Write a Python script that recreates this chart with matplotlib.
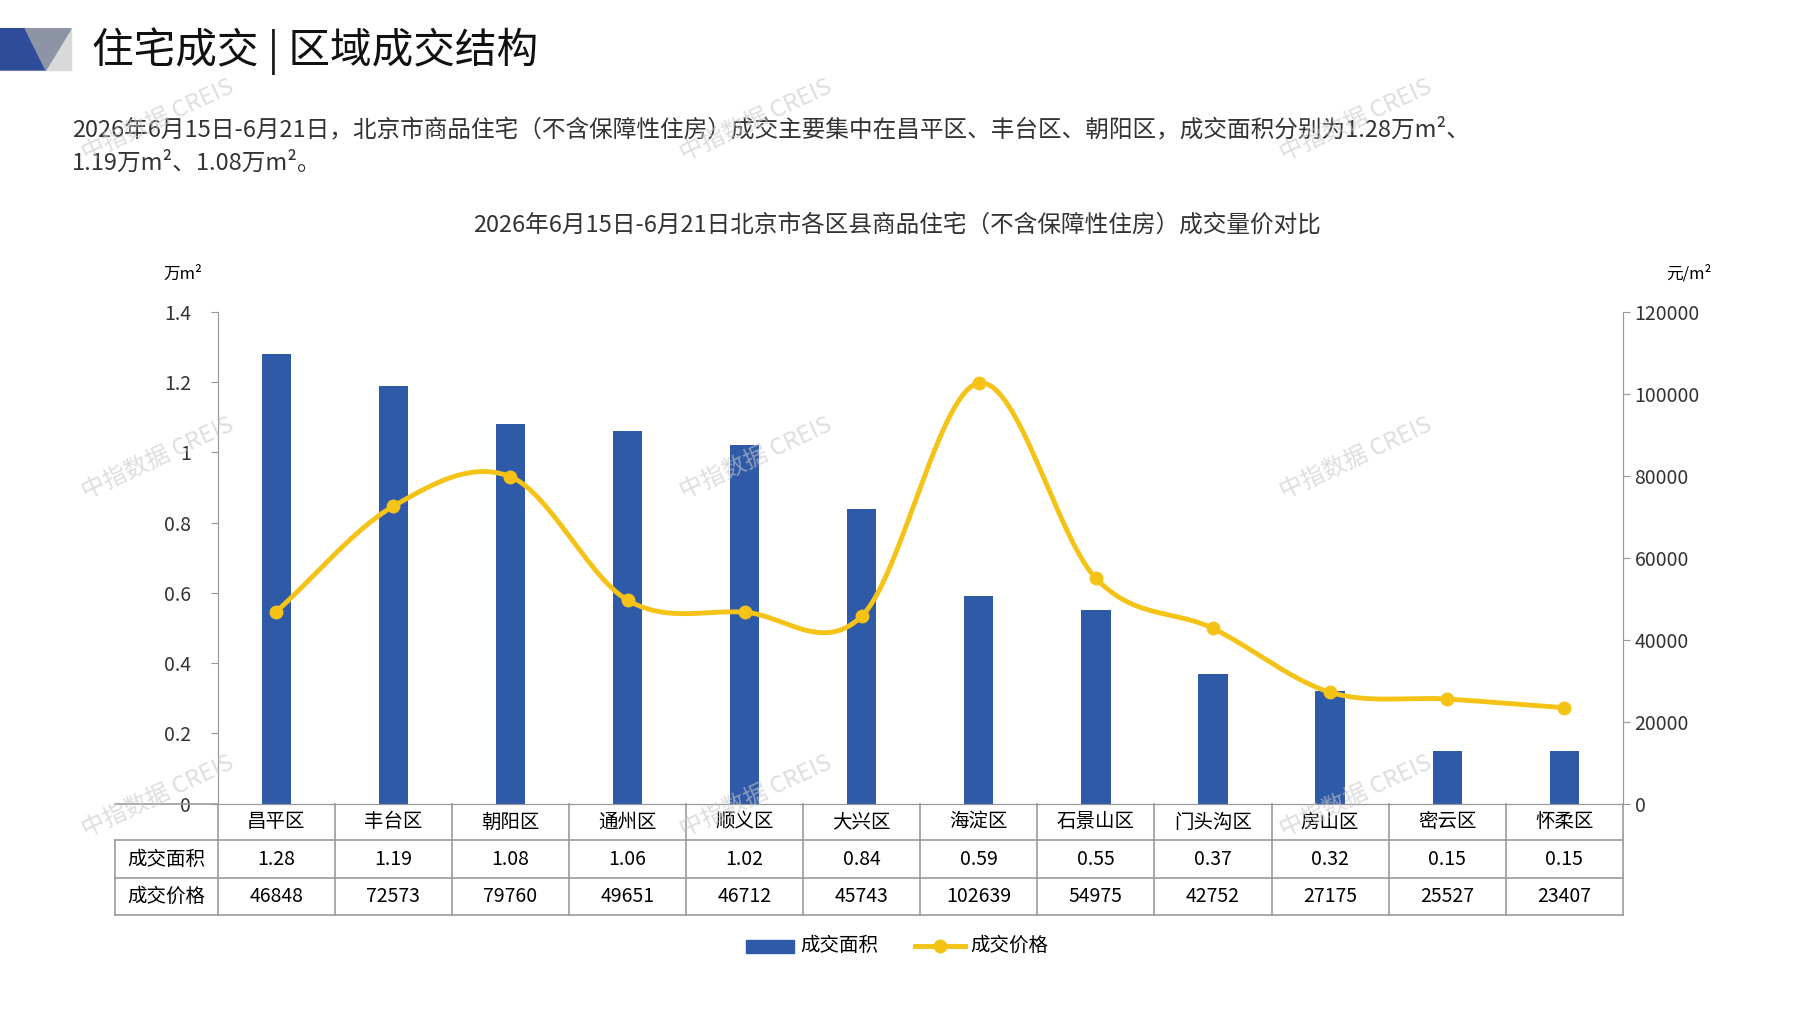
import matplotlib.pyplot as plt
import numpy as np
from matplotlib.patches import Polygon

plt.rcParams['font.family'] = ['Noto Sans CJK SC', 'DejaVu Sans']

districts = ['昌平区', '丰台区', '朝阳区', '通州区', '顺义区', '大兴区', '海淀区',
             '石景山区', '门头沟区', '房山区', '密云区', '怀柔区']
area = [1.28, 1.19, 1.08, 1.06, 1.02, 0.84, 0.59, 0.55, 0.37, 0.32, 0.15, 0.15]
price = [46848, 72573, 79760, 49651, 46712, 45743, 102639, 54975, 42752, 27175, 25527, 23407]
area_labels = ['1.28', '1.19', '1.08', '1.06', '1.02', '0.84', '0.59', '0.55', '0.37', '0.32', '0.15', '0.15']

W, H = 1568, 881
BLUE = '#2F5AA8'
GOLD = '#F5C216'


def fx(x):
    return x / W


def fy(y):
    return 1 - y / H


def catmull(xs, ys, n=30):
    xs = np.asarray(xs, float)
    ys = np.asarray(ys, float)
    px = np.concatenate([[2 * xs[0] - xs[1]], xs, [2 * xs[-1] - xs[-2]]])
    py = np.concatenate([[2 * ys[0] - ys[1]], ys, [2 * ys[-1] - ys[-2]]])
    ox, oy = [], []
    t = np.linspace(0, 1, n)
    for i in range(1, len(px) - 2):
        for p, o in ((px, ox), (py, oy)):
            p0, p1, p2, p3 = p[i - 1], p[i], p[i + 1], p[i + 2]
            o.extend(0.5 * (2 * p1 + (-p0 + p2) * t + (2 * p0 - 5 * p1 + 4 * p2 - p3) * t ** 2
                            + (-p0 + 3 * p1 - 3 * p2 + p3) * t ** 3))
    return ox, oy


fig = plt.figure(figsize=(17.97, 10.10), dpi=100)

# header
fig.patches.append(Polygon([[fx(0), fy(25)], [fx(62), fy(25)], [fx(62), fy(61)], [fx(0), fy(61)]],
                           closed=True, transform=fig.transFigure, color='#D9D9D9'))
fig.patches.append(Polygon([[fx(0), fy(25)], [fx(22), fy(25)], [fx(40), fy(61)], [fx(0), fy(61)]],
                           closed=True, transform=fig.transFigure, color='#2F4C9A'))
fig.patches.append(Polygon([[fx(22), fy(25)], [fx(62), fy(25)], [fx(40), fy(61)]],
                           closed=True, transform=fig.transFigure, color='#8C94A6'))
fig.text(fx(80), fy(45), '住宅成交 | 区域成交结构', fontsize=30, va='center', color='#111111')
fig.text(fx(63), fy(113), '2026年6月15日-6月21日，北京市商品住宅（不含保障性住房）成交主要集中在昌平区、丰台区、朝阳区，成交面积分别为1.28万m²、',
         fontsize=17, va='center', color='#333333')
fig.text(fx(63), fy(142), '1.19万m²、1.08万m²。', fontsize=17, va='center', color='#333333')
fig.text(fx(783), fy(196), '2026年6月15日-6月21日北京市各区县商品住宅（不含保障性住房）成交量价对比',
         fontsize=17, ha='center', va='center', color='#333333')

ax = fig.add_axes([fx(190), fy(701), fx(1416) - fx(190), fy(272) - fy(701)])
x = np.arange(len(districts))
ax.bar(x, area, width=0.25, color=BLUE, zorder=2)
ax.set_xlim(-0.5, len(districts) - 0.5)
ax.set_ylim(0, 1.4)
ax.set_yticks(np.arange(0, 1.41, 0.2))
ax.set_yticklabels(['0', '0.2', '0.4', '0.6', '0.8', '1', '1.2', '1.4'])
ax.set_xticks([])
ax2 = ax.twinx()
sx, sy = catmull(x, price)
ax2.plot(sx, sy, color=GOLD, lw=3.5, zorder=3)
ax2.plot(x, price, 'o', color=GOLD, ms=9, zorder=4)
ax2.set_ylim(0, 120000)
ax2.set_yticks(np.arange(0, 120001, 20000))
for a in (ax, ax2):
    for s in a.spines.values():
        s.set_color('#999999')
    a.spines['top'].set_visible(False)
    a.tick_params(labelsize=14, colors='#333333', length=5, color='#999999')
ax.tick_params(axis='y', pad=14)
fig.text(fx(160), fy(239), '万m²', fontsize=12, ha='center', va='center')
fig.text(fx(1474), fy(239), '元/m²', fontsize=12, ha='center', va='center')

# table
cw = (1416 - 190) / len(districts)
rows = [701, 733, 766, 798]
lc = '#999999'
for r in rows[1:]:
    fig.add_artist(plt.Line2D([fx(100), fx(1416)], [fy(r), fy(r)], color=lc, lw=1.2, transform=fig.transFigure))
fig.add_artist(plt.Line2D([fx(100), fx(190)], [fy(701), fy(701)], color=lc, lw=1.2, transform=fig.transFigure))
for i in range(len(districts) + 1):
    xx = 190 + i * cw
    fig.add_artist(plt.Line2D([fx(xx), fx(xx)], [fy(701), fy(798)], color=lc, lw=1.2, transform=fig.transFigure))
fig.add_artist(plt.Line2D([fx(100), fx(100)], [fy(733), fy(798)], color=lc, lw=1.2, transform=fig.transFigure))
fig.text(fx(145), fy(749.5), '成交面积', fontsize=14, ha='center', va='center')
fig.text(fx(145), fy(782), '成交价格', fontsize=14, ha='center', va='center')
for i, d in enumerate(districts):
    cx = fx(190 + (i + 0.5) * cw)
    fig.text(cx, fy(717), d, fontsize=14, ha='center', va='center')
    fig.text(cx, fy(749.5), area_labels[i], fontsize=14, ha='center', va='center')
    fig.text(cx, fy(782), str(price[i]), fontsize=14, ha='center', va='center')

# legend
fig.patches.append(Polygon([[fx(651), fy(820)], [fx(693), fy(820)], [fx(693), fy(831)], [fx(651), fy(831)]],
                           closed=True, transform=fig.transFigure, color=BLUE))
fig.text(fx(698), fy(825), '成交面积', fontsize=14, va='center')
fig.add_artist(plt.Line2D([fx(798), fx(842)], [fy(825), fy(825)], color=GOLD, lw=3.5, transform=fig.transFigure))
fig.add_artist(plt.Line2D([fx(820)], [fy(825)], marker='o', ms=9, color=GOLD, transform=fig.transFigure))
fig.text(fx(847), fy(825), '成交价格', fontsize=14, va='center')

# watermarks
for wx in (138, 660, 1183):
    for wy in (105, 400, 695):
        fig.text(fx(wx), fy(wy), '中指数据 CREIS', fontsize=17, rotation=25, ha='center', va='center',
                 color='#C8C8C8', alpha=0.6, zorder=10)

fig.savefig('out.png', dpi=100, facecolor='white')
